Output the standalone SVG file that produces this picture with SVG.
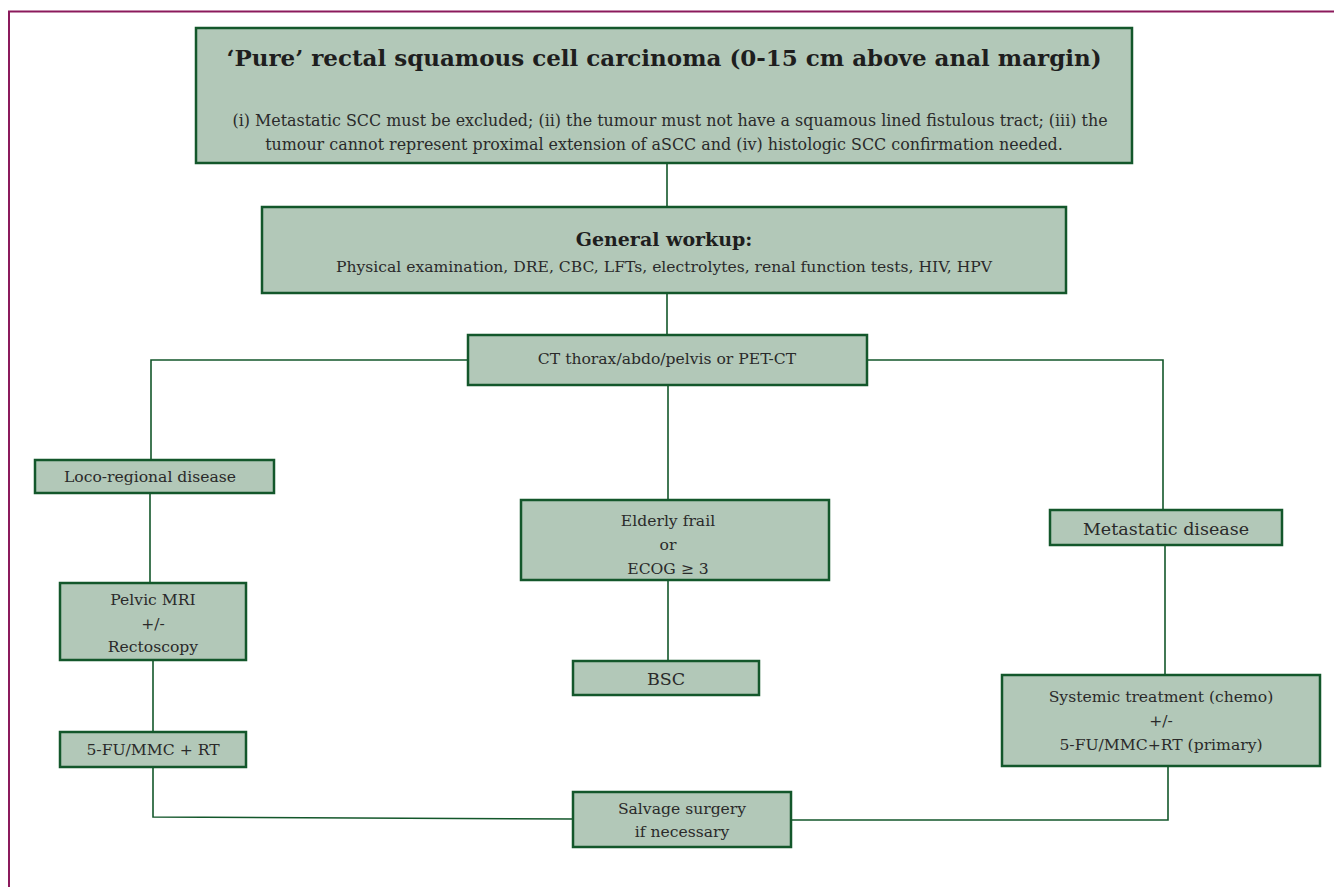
<svg xmlns="http://www.w3.org/2000/svg" width="1334" height="887" viewBox="0 0 1334 887">
<style>
.b{fill:#b2c8b8;stroke:#13572b;stroke-width:2.5}
.c{fill:none;stroke:#13572b;stroke-width:1.6}
text{font-family:"DejaVu Serif","Liberation Serif",serif;fill:#2a2a2a;text-anchor:middle;font-size:15.6px}
.t{font-weight:bold;font-size:23px;fill:#1e1e1e}
.h{font-weight:bold;font-size:19px;fill:#1e1e1e}
.l{font-size:17.5px}
.s{font-size:15.9px}
</style>
<rect width="1334" height="887" fill="#fff"/>
<path d="M9 887V11.5H1334" fill="none" stroke="#8b1a5c" stroke-width="2"/>
<g id="connectors">
<path class="c" d="M667 163V207M667 293V335M468 360H151V460M867 360H1163V510M668 385V500M150 493V583M153 660V732M153 767V817L573 819M668 580V661M1165 545V675M1168 766V820H791"/>
</g>
<g id="title"><rect class="b" x="196" y="28" width="936" height="135"/>
<text class="t" x="664" y="66">‘Pure’ rectal squamous cell carcinoma (0-15 cm above anal margin)</text>
<text class="s" x="670" y="126">(i) Metastatic SCC must be excluded; (ii) the tumour must not have a squamous lined fistulous tract; (iii) the</text>
<text class="s" x="664" y="150">tumour cannot represent proximal extension of aSCC and  (iv) histologic SCC confirmation needed.</text></g>
<g id="workup"><rect class="b" x="262" y="207" width="804" height="86"/>
<text class="h" x="664" y="246">General workup:</text>
<text x="664" y="272">Physical examination, DRE, CBC, LFTs, electrolytes, renal function tests, HIV, HPV</text></g>
<g id="ct"><rect class="b" x="468" y="335" width="399" height="50"/>
<text x="667" y="364">CT thorax/abdo/pelvis or PET-CT</text></g>
<g id="loco"><rect class="b" x="35" y="460" width="239" height="33"/>
<text x="150" y="482">Loco-regional disease</text></g>
<g id="mri"><rect class="b" x="60" y="583" width="186" height="77"/>
<text x="153" y="605">Pelvic MRI</text><text x="153" y="629">+/-</text><text x="153" y="652">Rectoscopy</text></g>
<g id="fu"><rect class="b" x="60" y="732" width="186" height="35"/>
<text x="153" y="755">5-FU/MMC + RT</text></g>
<g id="elderly"><rect class="b" x="521" y="500" width="308" height="80"/>
<text x="668" y="526">Elderly frail</text><text x="668" y="550">or</text><text x="668" y="574">ECOG ≥ 3</text></g>
<g id="bsc"><rect class="b" x="573" y="661" width="186" height="34"/>
<text class="l" x="666" y="685">BSC</text></g>
<g id="meta"><rect class="b" x="1050" y="510" width="232" height="35"/>
<text class="l" x="1166" y="535">Metastatic disease</text></g>
<g id="systemic"><rect class="b" x="1002" y="675" width="318" height="91"/>
<text x="1161" y="702">Systemic treatment (chemo)</text><text x="1161" y="726">+/-</text><text x="1161" y="750">5-FU/MMC+RT (primary)</text></g>
<g id="salvage"><rect class="b" x="573" y="792" width="218" height="55"/>
<text x="682" y="814">Salvage surgery</text><text x="682" y="837">if necessary</text></g>
</svg>
